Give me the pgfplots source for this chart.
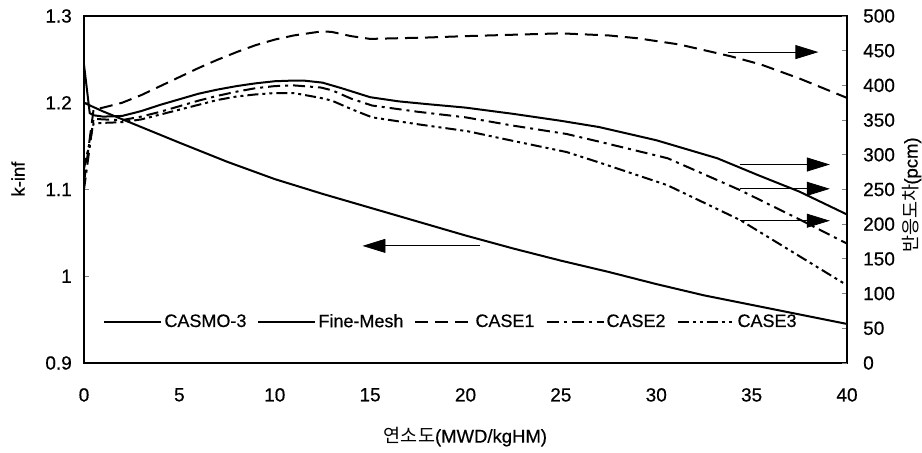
\documentclass[border=0pt]{standalone}
\usepackage{fontspec}
\setmainfont{Liberation Sans}[FakeBold=0.5]
\newfontfamily\kr{Noto Sans CJK KR}
\usepackage{pgfplots}
\pgfplotsset{compat=1.18}
\usetikzlibrary{arrows.meta}
\begin{document}
\fontsize{18}{21}\selectfont
\begin{tikzpicture}
\pgfplotsset{
  base/.style={width=763pt,height=347pt,scale only axis,xmin=0,xmax=40,
    /pgf/number format/assume math mode=true,
    tick label style={font=\fontsize{19}{22}\selectfont},
    label style={font=\fontsize{18.5}{21}\selectfont},
    axis line style={line width=1.6pt},clip=false,
    tick align=inside, major tick length=5pt, tick style={line width=1pt}},
  case1/.style={black,line width=2pt,dash pattern=on 13pt off 7pt},
  case2/.style={black,line width=2pt,dash pattern=on 12pt off 5pt on 3pt off 5pt},
  case3/.style={black,line width=2pt,dash pattern=on 11pt off 4pt on 3pt off 4pt on 3pt off 4pt},
  solidl/.style={black,line width=2pt},
}
\begin{axis}[base,name=ax,
  ymin=0.9,ymax=1.3,ytick={0.9,1,1.1,1.2,1.3},
  xtick={0,5,...,40},xtick style={draw=none},
  ytick pos=left,
  yticklabel style={xshift=-6pt},
  xticklabel style={yshift=-19pt},
  ylabel={k-inf},
  ylabel style={at={(axis description cs:-0.0865,0.53)},anchor=center},
  xlabel={{\kr 연소도}(MWD/kgHM)},
  xlabel style={at={(axis description cs:0.5,-0.213)},anchor=center},
]
\addplot[solidl] table {
x y
0 1.200
0.5 1.195
1 1.190
2 1.181
3 1.172
4 1.163
5 1.154
7.5 1.132
10 1.112
12.5 1.095
15 1.079
17.5 1.063
20 1.047
22.5 1.032
25 1.018
27.5 1.005
30 0.991
32.5 0.978
35 0.967
37.5 0.956
40 0.945
};
\draw[line width=0.8pt,-{Triangle[length=23pt,width=14pt]}] (axis cs:20.75,1.035) -- (axis cs:14.6,1.035);
\end{axis}
\begin{axis}[base,
  ymin=0,ymax=500,ytick={0,50,...,500},
  axis y line*=right,axis x line=none,
  yticklabel style={xshift=10pt},
  ylabel={{\kr 반응도차}(pcm)},
  ylabel style={at={(axis description cs:1.085,0.484)},anchor=center},
  legend style={at={(axis description cs:0.481,0.118)},anchor=center,draw=none,fill=none,
    legend columns=5,font=\fontsize{18}{21}\selectfont,
    /tikz/every even column/.append style={column sep=9pt},
    inner sep=0pt},
  legend image code/.code={\draw[#1] (0pt,0pt) -- (57pt,0pt);},
]
\addlegendimage{solidl}
\addlegendentry{CASMO-3}
\addplot[solidl] table {
x y
0 430
0.3 360
0.5 357
1 355
2 356
3 363
4 372
5 380
6 388
7 394
8 399
9 403
10 406
11 407
11.5 407
12.5 404
13.5 396
15 383
16.5 377
18 373
20 368
22.5 359
25 349
27 340
30 321
33.2 295
35.4 270
37.5 247
40 214
};
\addlegendentry{Fine-Mesh}
\addplot[case1] table {
x y
0 260
0.5 365
1 368
2 375
3 386
4 399
5 412
6 425
7 437
8 448
9 458
10 466
11 472
12 476
12.5 478
13 477
14 471
15 467
16.5 468
18 469
20 471
22.5 473
25 475
27.5 472
29 468
31.2 459
33.9 442
35.5 430
37.5 410
40 382
};
\addlegendentry{CASE1}
\addplot[case2] table {
x y
0 250
0.5 352
1 351
2 350
3 355
4 362
5 370
6 378
7 385
8 391
9 396
10 399
11 400
12.4 397
13 393
14 381
15.1 371
17.5 362
20 354
22.5 342
25.3 330
27 319
30.6 295
34.4 249
37.5 207
40 172
};
\addlegendentry{CASE2}
\addplot[case3] table {
x y
0 280
0.5 345
1 346
2 347
3 351
4 358
5 365
6 372
7 379
8 384
9 387
10 389
11 389
12.4 382
13 378
14 366
15.1 354
17.5 344
20.1 334
22.5 320
25.3 304
27 289
30.6 256
34.4 206
37.5 154
40 112
};
\addlegendentry{CASE3}
\draw[line width=0.8pt,-{Triangle[length=23pt,width=14pt]}] (axis cs:33.75,448) -- (axis cs:38.5,448);
\draw[line width=0.8pt,-{Triangle[length=23pt,width=14pt]}] (axis cs:34.4,286) -- (axis cs:39.1,286);
\draw[line width=0.8pt,-{Triangle[length=23pt,width=14pt]}] (axis cs:34.4,251) -- (axis cs:39.1,251);
\draw[line width=0.8pt,-{Triangle[length=23pt,width=14pt]}] (axis cs:34.4,205) -- (axis cs:39.1,205);
\end{axis}
\pgfresetboundingbox
\path[use as bounding box] ([xshift=-84pt,yshift=-89pt]ax.south west) rectangle ([xshift=75pt,yshift=16pt]ax.north east);
\end{tikzpicture}
\end{document}
